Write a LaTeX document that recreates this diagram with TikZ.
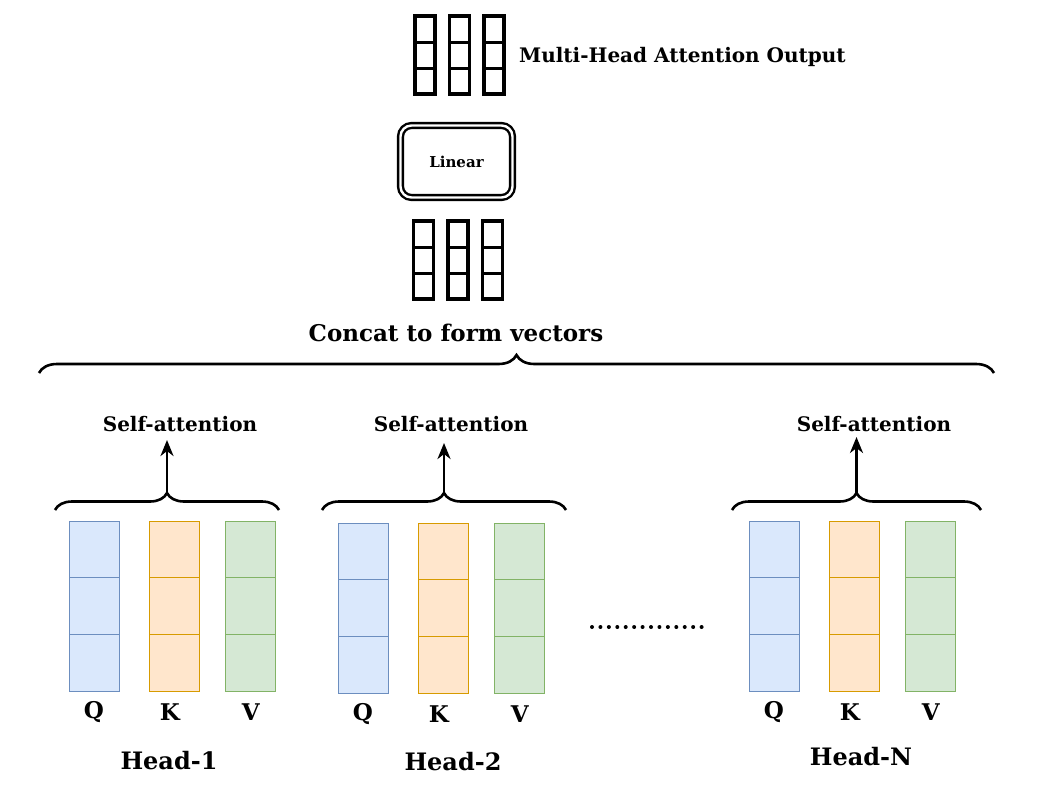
\documentclass[tikz,border=0pt]{standalone}
\usepackage{fontspec}
\setmainfont{DejaVu Serif}
\usetikzlibrary{positioning,arrows.meta,decorations.pathreplacing,calc}
\definecolor{QFill}{HTML}{DAE8FC}
\definecolor{QLine}{HTML}{6C8EBF}
\definecolor{KFill}{HTML}{FFE6CC}
\definecolor{KLine}{HTML}{D79B00}
\definecolor{VFill}{HTML}{D5E8D4}
\definecolor{VLine}{HTML}{82B366}

\begin{document}
\begin{tikzpicture}[
  x=1pt, y=-1pt,
  % --- vector columns (three cells each) ---
  rows/.style={path picture={
    \draw[#1] ($(path picture bounding box.north west)!1/3!(path picture bounding box.south west)$)
      -- ($(path picture bounding box.north east)!1/3!(path picture bounding box.south east)$);
    \draw[#1] ($(path picture bounding box.north west)!2/3!(path picture bounding box.south west)$)
      -- ($(path picture bounding box.north east)!2/3!(path picture bounding box.south east)$);}},
  bcol/.style={draw, line width=3.4pt, minimum width=20, minimum height=78, inner sep=0pt, rows={black,line width=3pt}},
  col/.style={minimum width=50, minimum height=170, inner sep=0pt, line width=0.9pt},
  qcol/.style={col, fill=QFill, draw=QLine, rows={QLine,line width=0.9pt}},
  kcol/.style={col, fill=KFill, draw=KLine, rows={KLine,line width=0.9pt}},
  vcol/.style={col, fill=VFill, draw=VLine, rows={VLine,line width=0.9pt}},
  % --- texts ---
  txt/.style={inner sep=0pt, font=\fontsize{20}{24}\selectfont\bfseries},
  big/.style={inner sep=0pt, font=\fontsize{23}{26}\selectfont\bfseries},
  qkv/.style={inner sep=0pt, font=\fontsize{23}{26}\selectfont\bfseries},
  head/.style={inner sep=0pt, font=\fontsize{24}{28}\selectfont\bfseries},
  % --- boxes, braces and arrows ---
  linbox/.style={draw, double, line width=2.4pt, double distance=2.4pt, rounded corners=11pt,
    minimum width=112, minimum height=72, font=\fontsize{15}{18}\selectfont\bfseries},
  brc/.style={decorate, decoration={brace, amplitude=#1}, line width=2.6pt},
  up/.style={-{Stealth[length=16pt,width=13pt,inset=5pt]}, line width=2.6pt},
  dots/.style={line width=4pt, line cap=round, dash pattern=on 0pt off 8.43pt},
]
\path[use as bounding box] (0,0) rectangle (1043,793);

% =================== OUTPUT ===================
\node[bcol] (ob1) at (425,55) {};
\node[bcol, right=11pt of ob1] (ob2) {};
\node[bcol, right=11pt of ob2] (ob3) {};
\node[txt, anchor=west] (outT) at (519,57) {Multi-Head Attention Output};

\node[linbox] (lin) at (456.5,161.5) {Linear};

% concatenated vectors
\node[bcol] (cb1) at (423.5,260) {};
\node[bcol, right=11pt of cb1] (cb2) {};
\node[bcol, right=11pt of cb2] (cb3) {};
\node[big] (catT) at (456,333) {Concat to form vectors};

\draw[brc=18pt] (39,373) -- (994,373);

% =================== HEAD-1 ===================
\node[qcol] (q1) at (94,606) {};
\node[kcol, right=30pt of q1] (k1) {};
\node[vcol, right=25pt of k1] (v1) {};
\node[qkv] at ([yshift=-21pt]q1.south) {Q};
\node[qkv] at ([xshift=-5pt,yshift=-21pt]k1.south) {K};
\node[qkv] at ([yshift=-21pt]v1.south) {V};
\node[head] (h1) at (169,761) {Head-1};

\draw[brc=17pt] (55,510) -- (279,510);
\coordinate (tip1) at (167,493.5);
\coordinate (arr1) at (167,440);
\node[txt] (sa1) at (180,424) {Self-attention};
\draw[up] (tip1) -- (arr1);

% =================== HEAD-2 ===================
\node[qcol] (q2) at (363,608) {};
\node[kcol, right=30pt of q2] (k2) {};
\node[vcol, right=25pt of k2] (v2) {};
\node[qkv] at ([yshift=-21pt]q2.south) {Q};
\node[qkv] at ([xshift=-5pt,yshift=-21pt]k2.south) {K};
\node[qkv] at ([yshift=-21pt]v2.south) {V};
\node[head] (h2) at (453,762) {Head-2};

\draw[brc=17pt] (322,510) -- (566,510);
\coordinate (tip2) at (444,493.5);
\coordinate (arr2) at (444,443);
\node[txt] (sa2) at (451,424) {Self-attention};
\draw[up] (tip2) -- (arr2);

% dots between heads
\coordinate (d0) at (592,627);
\coordinate (d1) at (710,627);
\draw[dots] (d0) -- (d1);

% =================== HEAD-N ===================
\node[qcol] (qn) at (774,606) {};
\node[kcol, right=30pt of qn] (kn) {};
\node[vcol, right=25pt of kn] (vn) {};
\node[qkv] at ([yshift=-21pt]qn.south) {Q};
\node[qkv] at ([xshift=-5pt,yshift=-21pt]kn.south) {K};
\node[qkv] at ([yshift=-21pt]vn.south) {V};
\node[head] (hn) at (861,757) {Head-N};

\draw[brc=17pt] (732,510) -- (981,510);
\coordinate (tipn) at (856.5,493.5);
\coordinate (arrn) at (856.5,437);
\node[txt] (san) at (874,424) {Self-attention};
\draw[up] (tipn) -- (arrn);

\end{tikzpicture}
\end{document}
